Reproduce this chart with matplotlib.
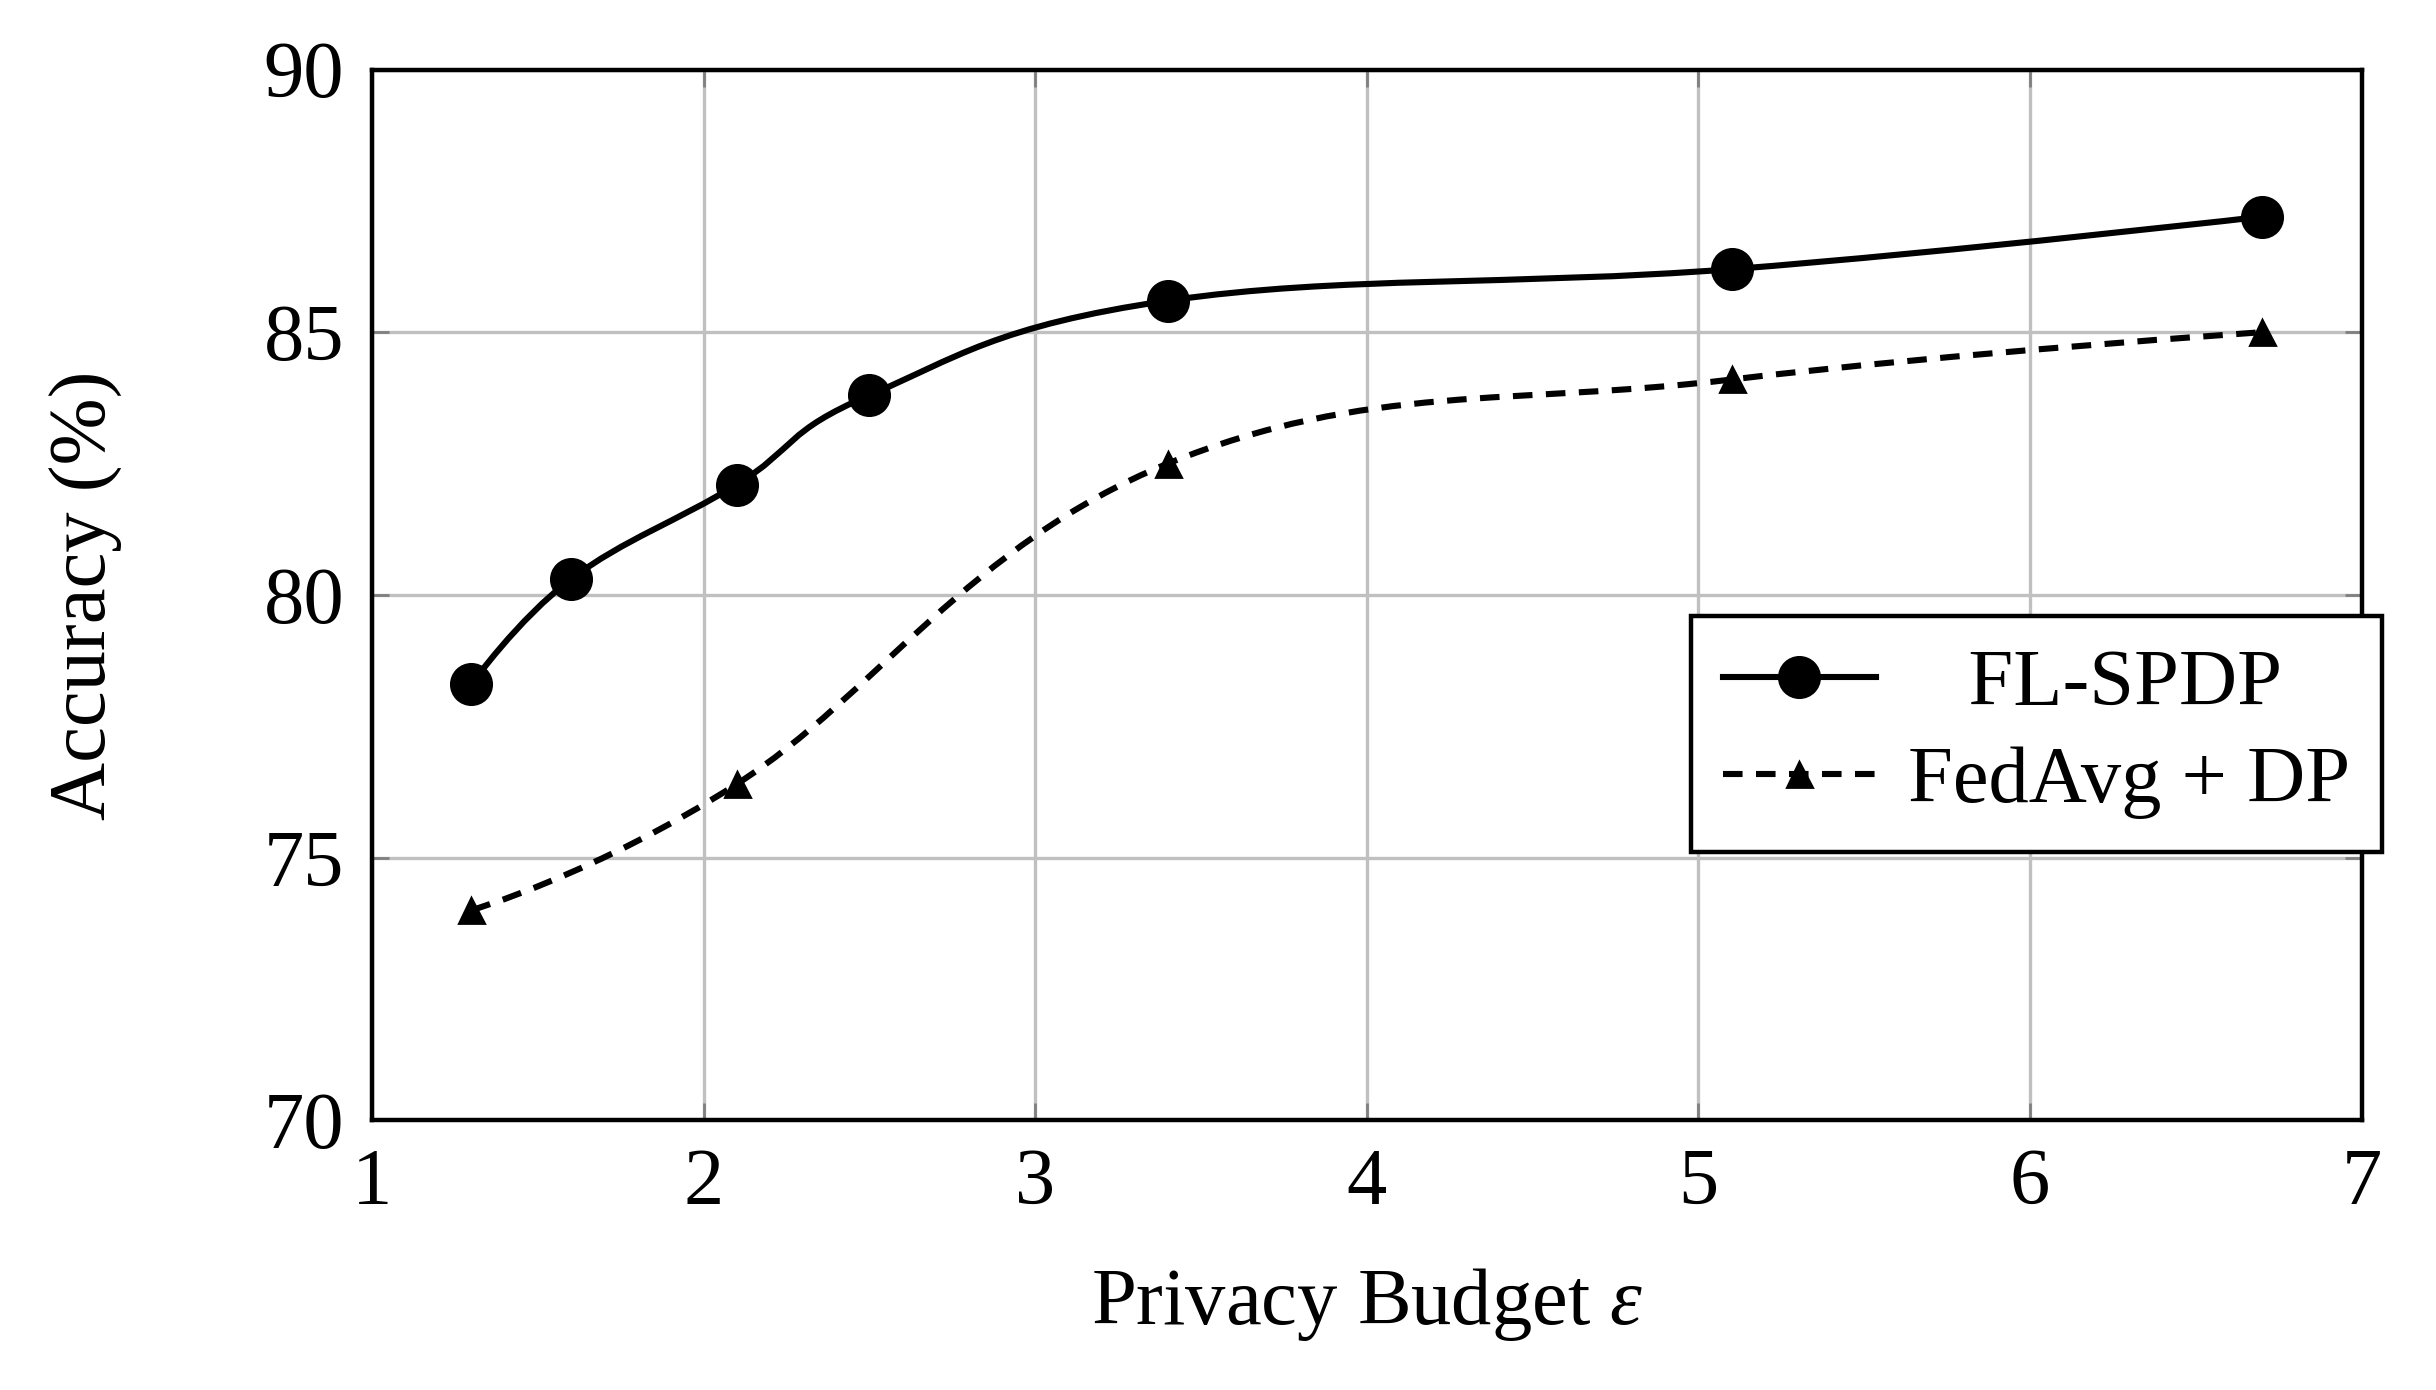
import numpy as np
import matplotlib.pyplot as plt
from matplotlib.path import Path
from matplotlib.patches import PathPatch
from matplotlib.lines import Line2D

plt.rcParams['font.family'] = ['Liberation Serif', 'DejaVu Serif']
plt.rcParams['mathtext.fontset'] = 'custom'
plt.rcParams['mathtext.rm'] = 'Liberation Serif'
plt.rcParams['mathtext.it'] = 'Liberation Serif:italic'

# data
eps_spdp = [1.3, 1.6, 2.1, 2.5, 3.4, 5.1, 6.7]
acc_spdp = [78.3, 80.3, 82.1, 83.8, 85.6, 86.2, 87.2]
eps_fedavg = [1.3, 2.1, 3.4, 5.1, 6.7]
acc_fedavg = [74.0, 76.4, 82.5, 84.1, 85.0]
x_ticks = [1, 2, 3, 4, 5, 6, 7]
y_ticks = [70, 75, 80, 85, 90]

FS = 29


def smooth_path(xs, ys, k=0.2):
    # bezier path through the points, like pgfplots "smooth"
    p = np.column_stack([xs, ys]).astype(float)
    n = len(p)
    tang = np.zeros_like(p)
    for i in range(1, n - 1):
        tang[i] = p[i + 1] - p[i - 1]
    verts = [p[0]]
    codes = [Path.MOVETO]
    for i in range(n - 1):
        c1 = p[i] + k * tang[i]
        c2 = p[i + 1] - k * tang[i + 1]
        verts += [c1, c2, p[i + 1]]
        codes += [Path.CURVE4] * 3
    return Path(verts, codes)


fig = plt.figure(figsize=(12.18, 6.95), dpi=200)
ax = fig.add_axes([0.1527, 0.194, 0.8168, 0.756])

ax.add_patch(PathPatch(smooth_path(eps_spdp, acc_spdp), fill=False,
                       edgecolor='black', lw=2.2, zorder=3))
ax.plot(eps_spdp, acc_spdp, linestyle='none', marker='o', ms=14.5,
        color='black', zorder=4)

ax.add_patch(PathPatch(smooth_path(eps_fedavg, acc_fedavg), fill=False,
                       edgecolor='black', lw=2.2, linestyle=(0, (3.2, 2.2)),
                       zorder=3))
ax.plot(eps_fedavg, acc_fedavg, linestyle='none', marker='^', ms=9,
        color='black', zorder=4)

ax.set_xlim(1, 7)
ax.set_ylim(70, 90)
ax.set_xticks(x_ticks)
ax.set_yticks(y_ticks)
ax.grid(True, color='#c0c0c0', lw=1.2)
ax.set_axisbelow(True)
ax.tick_params(direction='in', length=6, width=1, color='#808080',
               top=True, right=True, labelsize=FS, pad=10)
for s in ax.spines.values():
    s.set_linewidth(1.6)

ax.set_xlabel(r'Privacy Budget $\varepsilon$', fontsize=FS, labelpad=16)
ax.set_ylabel('Accuracy (%)', fontsize=FS)
ax.yaxis.set_label_coords(-0.125, 0.5)

handles = [
    Line2D([], [], color='black', lw=2.2, marker='o', ms=14.5),
    Line2D([], [], color='black', lw=2.2, linestyle=(0, (3.2, 2.2)),
           marker='^', ms=9),
]
leg = fig.legend(handles, ['   FL-SPDP', 'FedAvg + DP'], loc='center',
                 bbox_to_anchor=(0.836, 0.472), fontsize=FS, frameon=True,
                 fancybox=False, edgecolor='black', framealpha=1,
                 handlelength=1.9, handletextpad=0.4, borderpad=0.4,
                 labelspacing=0.3)
leg.get_frame().set_linewidth(1.6)

fig.savefig('out.png', dpi=200)
